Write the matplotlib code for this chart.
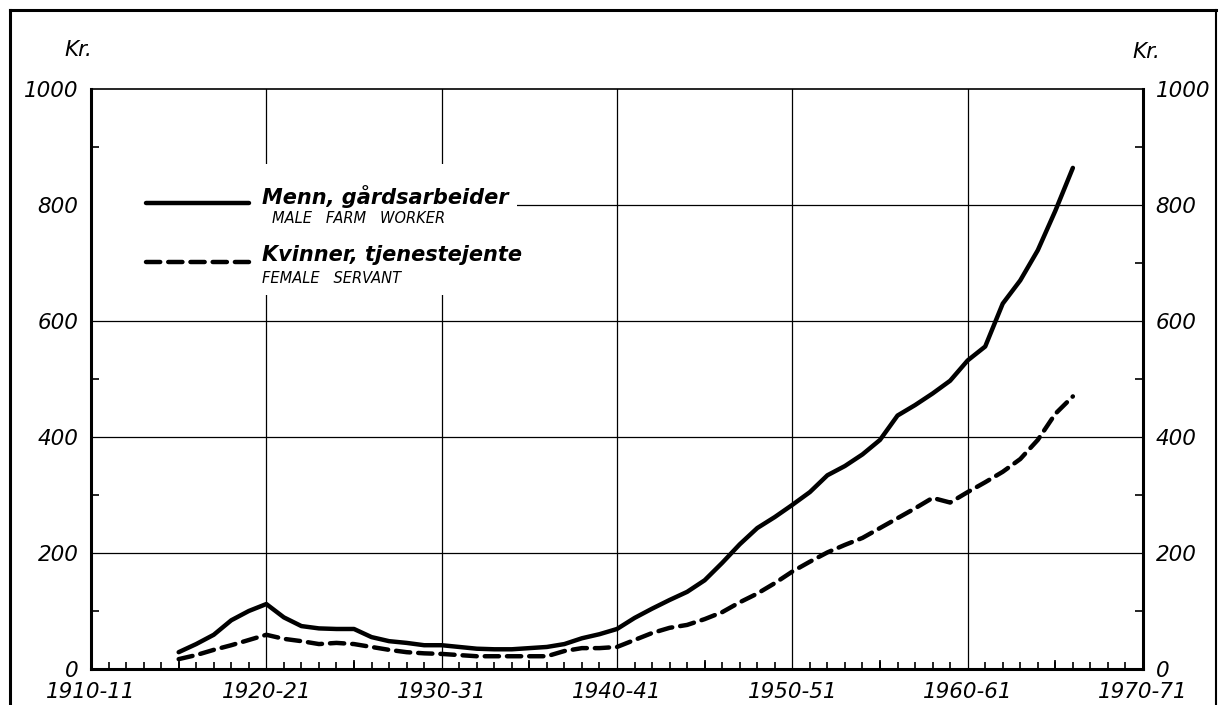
import numpy as np
import matplotlib
matplotlib.use("Agg")
import matplotlib.pyplot as plt
from matplotlib.lines import Line2D
from matplotlib.patches import Rectangle

# crop years (1915 = 1915-16 etc.)
years = list(range(1915, 1967))

# Kr., male farm worker
menn = [29, 43, 59, 84, 100, 112, 89, 74, 70, 69,
        69, 55, 48, 45, 41, 41, 38, 35, 34, 34,
        36, 38, 43, 53, 60, 69, 88, 104, 119, 133,
        153, 183, 215, 243, 262, 283, 305, 334, 350, 370,
        395, 437, 455, 475, 497, 532, 556, 630, 670, 722,
        790, 864]

# Kr., female servant
kvinner = [17, 24, 33, 41, 50, 59, 52, 48, 43, 45,
           43, 38, 33, 29, 27, 26, 24, 22, 22, 22,
           22, 22, 31, 36, 36, 38, 50, 62, 71, 76,
           86, 98, 115, 130, 148, 168, 185, 201, 214, 226,
           243, 260, 277, 295, 287, 305, 322, 340, 362, 395,
           440, 470]

xtick_pos = [1910, 1920, 1930, 1940, 1950, 1960, 1970]
xtick_labels = ["1910-11", "1920-21", "1930-31", "1940-41", "1950-51", "1960-61", "1970-71"]
ytick_pos = [0, 200, 400, 600, 800, 1000]

plt.rcParams['font.family'] = ['DejaVu Sans']
fs = dict(style='oblique', fontsize=15.5)

W, H = 1221, 705
fig = plt.figure(figsize=(W / 100, H / 100), dpi=100)
ax = fig.add_axes([91 / W, 1 - 669 / H, (1143 - 91) / W, (669 - 89) / H])

ax.set_xlim(1910, 1970)
ax.set_ylim(0, 1000)

# grid
for x in xtick_pos[1:-1]:
    ax.axvline(x, color='black', lw=0.9, zorder=1)
for y in ytick_pos[1:-1]:
    ax.axhline(y, color='black', lw=0.9, zorder=1)

ax.plot(years, menn, color='black', lw=3.2, solid_capstyle='round', zorder=4)
ax.plot(years, kvinner, color='black', lw=3.2, linestyle=(0, (3.2, 1.8)),
        dash_capstyle='round', zorder=4)

# spines
for s in ['left', 'right', 'bottom']:
    ax.spines[s].set_linewidth(2.2)
ax.spines['top'].set_linewidth(1.2)

ax.set_xticks(xtick_pos)
ax.set_xticklabels(xtick_labels, **fs)
ax.set_xticks(np.arange(1910, 1971, 1), minor=True)
ax.set_yticks(ytick_pos)
ax.set_yticklabels([str(v) for v in ytick_pos], **fs)
ax.set_yticks(np.arange(0, 1001, 100), minor=True)

ax.tick_params(axis='x', which='major', direction='in', length=0, pad=9)
ax.tick_params(axis='x', which='minor', direction='in', length=5, width=1.2)
ax.tick_params(axis='y', which='major', direction='in', length=0, pad=9,
               left=True, right=True, labelleft=True, labelright=True)
ax.tick_params(axis='y', which='minor', direction='in', length=6, width=1.2,
               left=True, right=True)
for lab in ax.get_yticklabels(which='major'):
    lab.set_fontsize(15.5)
    lab.set_style('oblique')

# longer ticks every five years
for x in range(1915, 1970, 10):
    ax.plot([x, x], [0, 14], color='black', lw=1.3, clip_on=False, zorder=3)

# "Kr." unit labels
fig.text(78 / W, 1 - 50 / H, "Kr.", ha='center', va='center', **fs)
fig.text(1146 / W, 1 - 52 / H, "Kr.", ha='center', va='center', **fs)

# legend block on white background
ax.add_patch(Rectangle((0.0, 0.645), 0.405, 0.225, transform=ax.transAxes,
                       facecolor='white', edgecolor='none', zorder=2))
ax.plot([0.052, 0.150], [0.803, 0.803], transform=ax.transAxes, color='black',
        lw=3.2, solid_capstyle='round', zorder=5)
ax.plot([0.052, 0.150], [0.702, 0.702], transform=ax.transAxes, color='black',
        lw=3.2, linestyle=(0, (3.2, 1.8)), dash_capstyle='round', zorder=5)
ax.text(0.163, 0.814, "Menn, gårdsarbeider", transform=ax.transAxes,
        ha='left', va='center', style='oblique', fontsize=15, fontweight='bold', zorder=6)
ax.text(0.172, 0.776, "MALE   FARM   WORKER", transform=ax.transAxes,
        ha='left', va='center', style='oblique', fontsize=10.5, zorder=6)
ax.text(0.163, 0.713, "Kvinner, tjenestejente", transform=ax.transAxes,
        ha='left', va='center', style='oblique', fontsize=15, fontweight='bold', zorder=6)
ax.text(0.163, 0.674, "FEMALE   SERVANT", transform=ax.transAxes,
        ha='left', va='center', style='oblique', fontsize=10.5, zorder=6)

# outer frame (left, top, right)
fig.add_artist(Line2D([10 / W, 10 / W], [0, 1 - 10 / H], color='black', lw=2.2))
fig.add_artist(Line2D([10 / W, 1216 / W], [1 - 10 / H, 1 - 10 / H], color='black', lw=2.2))
fig.add_artist(Line2D([1216 / W, 1216 / W], [0, 1 - 10 / H], color='black', lw=1.5))

fig.savefig("out.png", dpi=100, facecolor='white')
